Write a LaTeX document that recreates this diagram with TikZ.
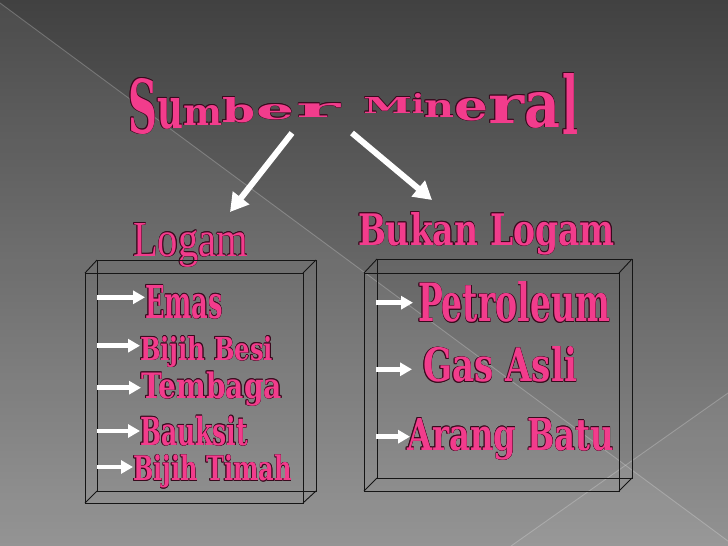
\documentclass[tikz,border=0pt]{standalone}
\usepackage{fontspec}
\usepackage{graphicx}
\usetikzlibrary{arrows.meta}
\newfontfamily\clar{DejaVu Serif}
\newfontfamily\thinserif{Liberation Serif}
\definecolor{pinkc}{HTML}{F23C8C}
\definecolor{olc}{HTML}{3A0A1E}
\definecolor{bgtop}{HTML}{414141}
\definecolor{bgmid}{HTML}{5C5C5C}
\definecolor{bgbot}{HTML}{8E8E8E}
\definecolor{boxc}{HTML}{151515}
\newlength\olw
\setlength\olw{0.45pt}
\newsavebox\olboxA
\newsavebox\olboxB
\newcommand\ptxt[3]{%
  \sbox\olboxA{\resizebox{#1pt}{#2pt}{\color{olc}#3}}%
  \sbox\olboxB{\resizebox{#1pt}{#2pt}{\color{pinkc}#3}}%
  \leavevmode
  \rlap{\raisebox{\olw}{\usebox\olboxA}}%
  \rlap{\raisebox{-\olw}{\usebox\olboxA}}%
  \rlap{\hspace*{\olw}\usebox\olboxA}%
  \rlap{\hspace*{-\olw}\usebox\olboxA}%
  \rlap{\hspace*{0.7\olw}\raisebox{0.7\olw}{\usebox\olboxA}}%
  \rlap{\hspace*{-0.7\olw}\raisebox{0.7\olw}{\usebox\olboxA}}%
  \rlap{\hspace*{0.7\olw}\raisebox{-0.7\olw}{\usebox\olboxA}}%
  \rlap{\hspace*{-0.7\olw}\raisebox{-0.7\olw}{\usebox\olboxA}}%
  \usebox\olboxB}
\tikzset{
  txt/.style={anchor=base west, inner sep=0pt, outer sep=0pt},
  boxline/.style={draw=boxc, line width=0.9pt},
  bgline/.style={draw=white, opacity=0.22, line width=0.9pt},
  bigarrow/.style={draw=white, line width=6pt, -{Triangle[length=18pt, width=20pt]}},
  smallarrow/.style={draw=white, line width=4.5pt, -{Triangle[length=12pt, width=13pt]}}
}
\begin{document}
\begin{tikzpicture}[x=1pt, y=-1pt]
\useasboundingbox (0,0) rectangle (728,546);
% background
\shade[top color=bgtop, middle color=bgmid, bottom color=bgbot] (0,0) rectangle (728,546);
\fill[white, opacity=0.06] (0,3) -- (728,541) -- (728,546) -- (0,546) -- cycle;
\fill[white, opacity=0.04] (728,393) -- (511,546) -- (728,546) -- cycle;
\draw[bgline] (0,3) -- (728,541);
\draw[bgline] (728,393) -- (511,546);

% title letters
\node[txt] (tS)  at (128,133) {\ptxt{29}{55}{\clar\bfseries S}};
\node[txt] (tu)  at (157,128) {\ptxt{26}{30}{\clar\bfseries u}};
\node[txt] (tm)  at (183,125) {\ptxt{39}{20}{\clar\bfseries m}};
\node[txt] (tb)  at (222,122) {\ptxt{33}{25}{\clar\bfseries b}};
\node[txt] (te)  at (256,119) {\ptxt{38}{15}{\clar\bfseries e}};
\node[txt] (tr)  at (296,117) {\ptxt{44}{14}{\clar\bfseries r}};
\node[txt] (tM)  at (363,113) {\ptxt{49}{16}{\clar\bfseries M}};
\node[txt] (ti)  at (412,113) {\ptxt{12}{20}{\clar\bfseries i}};
\node[txt] (tn)  at (424,117) {\ptxt{30}{17}{\clar\bfseries n}};
\node[txt] (te2) at (454,120) {\ptxt{34}{22}{\clar\bfseries e}};
\node[txt] (tr2) at (488,123) {\ptxt{36}{28}{\clar\bfseries r}};
\node[txt] (ta)  at (524,127) {\ptxt{36}{35}{\clar\bfseries a}};
\node[txt] (tl)  at (562,134) {\ptxt{16}{61}{\clar\bfseries l}};

% category labels
\node[txt] (logam) at (133,256) {\ptxt{115}{33}{\thinserif Logam}};
\node[txt] (bukan) at (358,245) {\ptxt{257}{33}{\clar\bfseries Bukan Logam}};

% big arrows
\coordinate (a1s) at (292,133);
\coordinate (a1e) at (230,212);
\coordinate (a2s) at (352,133);
\coordinate (a2e) at (432,200);
\draw[bigarrow] (a1s) -- (a1e);
\draw[bigarrow] (a2s) -- (a2e);

% left box
\draw[boxline] (85,273) rectangle (303,503);
\draw[boxline] (97,260) rectangle (316,491);
\draw[boxline] (85,273) -- (97,260) (303,273) -- (316,260) (303,503) -- (316,491) (85,503) -- (97,491);
% right box
\draw[boxline] (364,273) rectangle (619,491);
\draw[boxline] (377,259) rectangle (632,478);
\draw[boxline] (364,273) -- (377,259) (619,273) -- (632,259) (619,491) -- (632,478) (364,491) -- (377,478);

% left items
\node[txt] (emas)   at (145,318)   {\ptxt{78}{33}{\clar\bfseries Emas}};
\node[txt] (besi)   at (140,360)   {\ptxt{133}{24}{\clar\bfseries Bijih Besi}};
\node[txt] (temb)   at (141,398.3) {\ptxt{141}{26.6}{\clar\bfseries Tembaga}};
\node[txt] (bauk)   at (140,445)   {\ptxt{108}{29.3}{\clar\bfseries Bauksit}};
\node[txt] (timah)  at (133,480.7) {\ptxt{159}{25.7}{\clar\bfseries Bijih Timah}};
% right items
\node[txt] (petro)  at (418,321.7) {\ptxt{192}{40}{\clar\bfseries Petroleum}};
\node[txt] (gas)    at (423,381.7) {\ptxt{154}{35}{\clar\bfseries Gas Asli}};
\node[txt] (arang)  at (407,450)   {\ptxt{207}{32}{\clar\bfseries Arang Batu}};

% small arrows
\coordinate (s1) at (97,297.3);
\coordinate (s2) at (97,345.7);
\coordinate (s3) at (97,387.7);
\coordinate (s4) at (97,431);
\coordinate (s5) at (97,467);
\coordinate (r1) at (376,302.7);
\coordinate (r2) at (376,369.3);
\coordinate (r3) at (376,436.7);
\draw[smallarrow] (s1) -- (s1 -| emas.west);
\draw[smallarrow] (s2) -- (s2 -| besi.west);
\draw[smallarrow] (s3) -- (s3 -| temb.west);
\draw[smallarrow] (s4) -- (s4 -| bauk.west);
\draw[smallarrow] (s5) -- (s5 -| timah.west);
\draw[smallarrow] (r1) -- ([xshift=-5pt]r1 -| petro.west);
\draw[smallarrow] (r2) -- ([xshift=-11pt]r2 -| gas.west);
\draw[smallarrow] (r3) -- ([xshift=3pt]r3 -| arang.west);
\end{tikzpicture}
\end{document}
